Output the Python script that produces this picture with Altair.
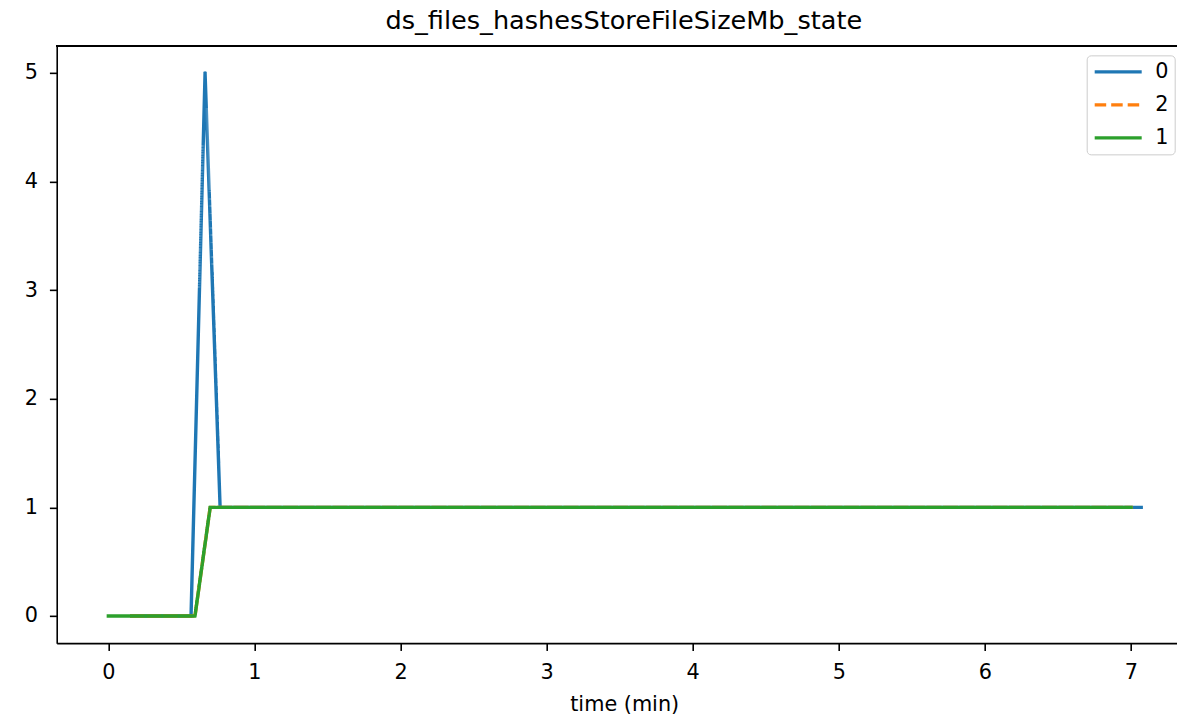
import altair as alt
import pandas as pd

# series "0" (blue)
t0 = [0.16, 0.566, 0.662, 0.765, 7.07]
v0 = [0, 0, 5, 1, 1]
# series "2" (orange, dashed)
t2 = [0.16, 0.593, 0.697, 7.0]
v2 = [0, 0, 1, 1]
# series "1" (green)
t1 = [0.0, 0.593, 0.697, 7.0]
v1 = [0, 0, 1, 1]

order = ["0", "2", "1"]
colors = ["#1f77b4", "#ff7f0e", "#2ca02c"]
dashes = [[1, 0], [11.5, 5], [1, 0]]
x_ticks = [0, 1, 2, 3, 4, 5, 6, 7]
y_ticks = [0, 1, 2, 3, 4, 5]

frames = []
for name, ts, vs in [("0", t0, v0), ("2", t2, v2), ("1", t1, v1)]:
    frames.append(pd.DataFrame({"time": ts, "value": vs, "series": name}))
df = pd.concat(frames, ignore_index=True)

FS = 20.8
LW = 3.4
x_scale = alt.Scale(domain=[-0.3535, 7.315], nice=False, zero=False)
y_scale = alt.Scale(domain=[-0.25, 5.25], nice=False, zero=False)

leg = dict(
    orient="none", legendX=1030, legendY=9.5, title=None,
    symbolType="stroke", symbolSize=2209, symbolStrokeWidth=LW,
    labelFontSize=FS, labelFont="DejaVu Sans", labelColor="black",
    fillColor="white", strokeColor="#cccccc", cornerRadius=4,
    padding=6, rowPadding=11, clipHeight=21, labelOffset=11.5, symbolOffset=0,
)
color = alt.Color("series:N", scale=alt.Scale(domain=order, range=colors),
                  legend=alt.Legend(**leg))
dash = alt.StrokeDash("series:N", scale=alt.Scale(domain=order, range=dashes),
                      legend=alt.Legend(**leg))

x_enc = alt.X(
    "time:Q", scale=x_scale, title="time (min)",
    axis=alt.Axis(values=x_ticks, format="d", grid=False, domainColor="black",
                  domainWidth=1.6, tickColor="black", tickWidth=1.6, tickSize=7.3,
                  labelFontSize=FS, labelColor="black", labelBaseline="alphabetic",
                  labelPadding=27.7, labelFlush=False, labelOverlap=False,
                  titleFontSize=FS, titleFontWeight="normal", titleColor="black",
                  titleBaseline="alphabetic", titleY=67, titleX=567.5,
                  titleAnchor="start", titleAlign="center"),
)
y_enc = alt.Y(
    "value:Q", scale=y_scale, title=None,
    axis=alt.Axis(values=y_ticks, format="d", grid=False, domainColor="black",
                  domainWidth=1.6, tickColor="black", tickWidth=1.6, tickSize=7.3,
                  labelFontSize=FS, labelColor="black", labelPadding=12,
                  labelFlush=False, labelOverlap=False),
)

layers = []
for name in order:
    layers.append(
        alt.Chart(df).transform_filter(alt.datum.series == name)
        .mark_line(strokeWidth=LW, strokeCap="square", strokeJoin="round")
        .encode(x=x_enc, y=y_enc, color=color, strokeDash=dash)
    )

top_rule = alt.Chart(df).mark_rule(color="black", strokeWidth=1.6).encode(y=alt.value(0))

chart = alt.layer(top_rule, *layers).properties(
    width=1120.3, height=597.3,
    autosize=alt.AutoSizeParams(type="none"),
    padding={"left": 48.7, "top": 37.85, "right": 0, "bottom": 75},
    title=alt.TitleParams(
        "ds_files_hashesStoreFileSizeMb_state", fontSize=25.6, font="DejaVu Sans",
        fontWeight="normal", color="black", anchor="middle", frame="group",
        dx=7, dy=26, offset=16.5, baseline="alphabetic",
    ),
).configure(font="DejaVu Sans").configure_view(stroke=None)

chart.save("out.html", embed_options={"renderer": "svg", "actions": False})
